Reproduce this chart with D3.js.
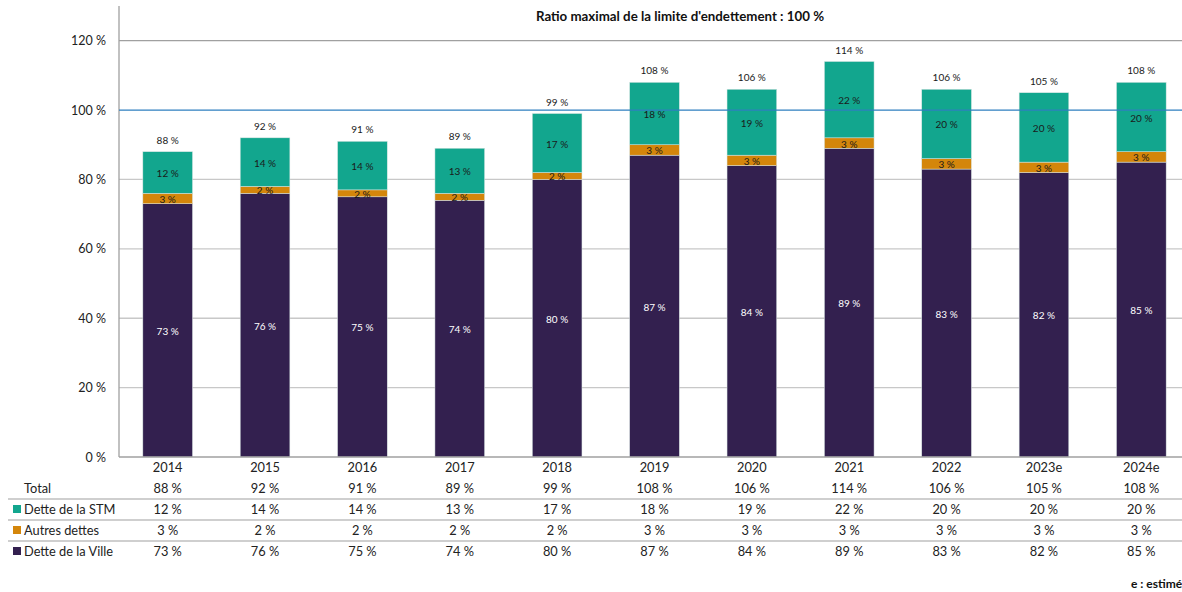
<!DOCTYPE html>
<html><head><meta charset="utf-8">
<script src="https://cdn.jsdelivr.net/npm/d3@7"></script>
<style>
body{margin:0;background:#fff;}
svg{display:block;font-family:Lato,"Open Sans",sans-serif;}
</style></head>
<body><svg id="c" width="1182" height="592"></svg>
<script>
const categories = ["2014","2015","2016","2017","2018","2019","2020","2021","2022","2023e","2024e"];
const villeDebt = [73,76,75,74,80,87,84,89,83,82,85];
const otherDebt = [3,2,2,2,2,3,3,3,3,3,3];
const stmDebt = [12,14,14,13,17,18,19,22,20,20,20];
const totals = [88,92,91,89,99,108,106,114,106,105,108];
const yTicks = [0,20,40,60,80,100,120];
const seriesNames = ["Dette de la Ville","Autres dettes","Dette de la STM"];
const colors = {"Dette de la Ville":"#33204f","Autres dettes":"#d4860b","Dette de la STM":"#12a68e"};
const title = "Ratio maximal de la limite d'endettement : 100 %";
const limit = 100;

(function(){
const svg = d3.select("#c");
const mLeft = 119, mRight = 1190, mTop = 6, mBottom = 457;
const x = d3.scaleBand().domain(categories).range([mLeft,mRight]).paddingInner(0.49).paddingOuter(0.245);
const y = d3.scaleLinear().domain([0,130]).range([mBottom,mTop]);

// gridlines
svg.append("g").selectAll("line").data(yTicks.filter(d=>d>0 && d!==limit)).join("line")
  .attr("x1",mLeft).attr("x2",1182).attr("y1",d=>y(d)).attr("y2",d=>y(d))
  .attr("stroke",d=>d===120?"#a0a0a0":"#c8c8c8").attr("stroke-width",1.3);

// y axis
const yAxis = d3.axisLeft(y).tickValues(yTicks).tickSize(0).tickPadding(13).tickFormat(d=>d+" %");
const ga = svg.append("g").attr("transform",`translate(${mLeft},0)`).call(yAxis);
ga.select(".domain").remove();
ga.selectAll("text").attr("font-size",12.5).attr("fill","#222").attr("font-family","Lato,sans-serif");
svg.append("line").attr("x1",mLeft).attr("x2",mLeft).attr("y1",mTop).attr("y2",mBottom).attr("stroke","#a0a0a0").attr("stroke-width",1.3);

// stacked data
const rows = categories.map((c,i)=>({cat:c,"Dette de la Ville":villeDebt[i],"Autres dettes":otherDebt[i],"Dette de la STM":stmDebt[i]}));
const stack = d3.stack().keys(seriesNames)(rows);
const bw = x.bandwidth();
const gb = svg.append("g");
stack.forEach(s=>{
  gb.append("g").selectAll("rect").data(s).join("rect")
    .attr("x",d=>x(d.data.cat)).attr("width",bw)
    .attr("y",d=>y(d[1])).attr("height",d=>y(d[0])-y(d[1]))
    .attr("fill",colors[s.key]).attr("stroke","#d9e6e3").attr("stroke-width",0.5);
});

// limit line
svg.append("line").attr("x1",mLeft).attr("x2",1182).attr("y1",y(limit)).attr("y2",y(limit))
  .attr("stroke","#2e7fbf").attr("stroke-width",1.3);

// segment labels
stack.forEach(s=>{
  gb.append("g").selectAll("text").data(s).join("text")
    .attr("x",d=>x(d.data.cat)+bw/2).attr("y",d=>(y(d[0])+y(d[1]))/2+4.5)
    .attr("text-anchor","middle").attr("font-size",10)
    .attr("fill",s.key==="Dette de la Ville"?"#fff":"#1a1a1a")
    .text(d=>d.data[s.key]+" %");
});
// totals
svg.append("g").selectAll("text").data(categories).join("text")
  .attr("x",d=>x(d)+bw/2).attr("y",(d,i)=>y(villeDebt[i]+otherDebt[i]+stmDebt[i])-8)
  .attr("text-anchor","middle").attr("font-size",10).attr("fill","#1a1a1a")
  .text((d,i)=>totals[i]+" %");

// x axis line
svg.append("line").attr("x1",mLeft).attr("x2",1182).attr("y1",mBottom).attr("y2",mBottom).attr("stroke","#a0a0a0").attr("stroke-width",1.3);
// category labels
svg.append("g").selectAll("text").data(categories).join("text")
  .attr("x",d=>x(d)+bw/2).attr("y",472).attr("text-anchor","middle").attr("font-size",12.8).attr("fill","#222").text(d=>d);

// data table
const tableRows = [
  {label:"Total", vals:totals, y:493, color:null},
  {label:"Dette de la STM", vals:stmDebt, y:514, color:colors["Dette de la STM"]},
  {label:"Autres dettes", vals:otherDebt, y:535, color:colors["Autres dettes"]},
  {label:"Dette de la Ville", vals:villeDebt, y:556, color:colors["Dette de la Ville"]}
];
[499,520,541].forEach(yy=>{
  svg.append("line").attr("x1",8).attr("x2",1182).attr("y1",yy).attr("y2",yy).attr("stroke","#a0a0a0").attr("stroke-width",1.2);
});
tableRows.forEach(r=>{
  if(r.color) svg.append("rect").attr("x",13).attr("y",r.y-9).attr("width",8).attr("height",8).attr("fill",r.color);
  svg.append("text").attr("x",24).attr("y",r.y).attr("font-size",12.8).attr("fill","#222").text(r.label);
  svg.append("g").selectAll("text").data(r.vals).join("text")
    .attr("x",(d,i)=>x(categories[i])+bw/2).attr("y",r.y).attr("text-anchor","middle")
    .attr("font-size",12.8).attr("fill","#222").text(d=>d+" %");
});

// title
svg.append("text").attr("x",680).attr("y",21).attr("text-anchor","middle").attr("font-size",13.3).attr("font-weight","bold").attr("fill","#111").text(title);
// footnote
svg.append("text").attr("x",1131).attr("y",588).attr("font-size",12).attr("font-weight","bold").attr("fill","#111").text("e : estimé");
})();
</script></body></html>
